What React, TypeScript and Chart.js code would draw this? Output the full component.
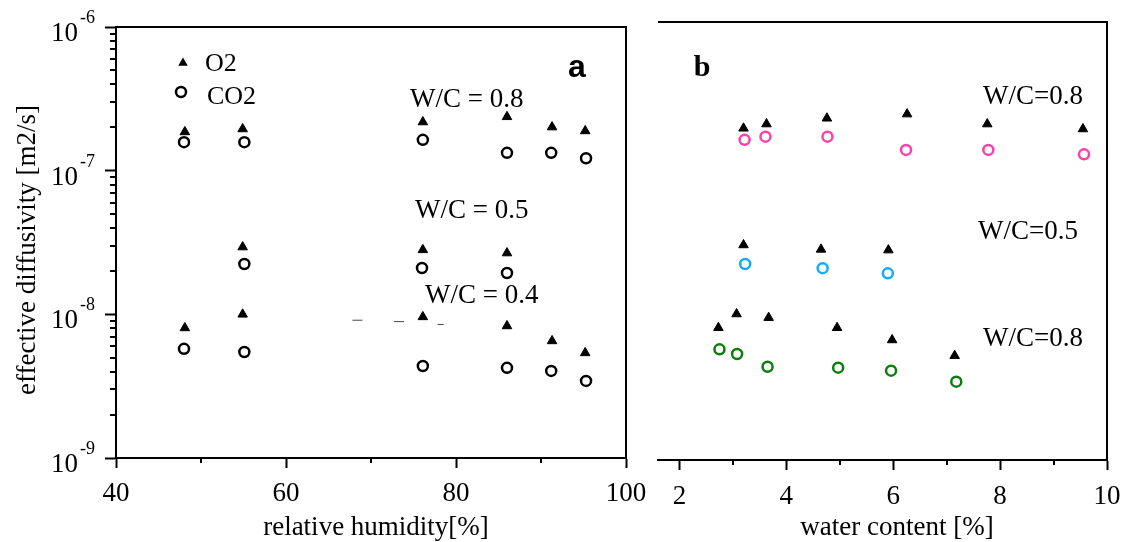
import React, { useEffect, useRef } from 'react';
import { Chart, registerables } from 'chart.js';

Chart.register(...registerables);

const SERIF = '"Liberation Serif", "Times New Roman", serif';
const SANS = '"Liberation Sans", Arial, sans-serif';

// ---------- Panel a : relative humidity [%] ----------
const rhO2Wc08 = [48.1, 54.9, 76.1, 86.0, 91.3, 95.2];
const dO2Wc08 = [1.86e-7, 1.95e-7, 2.18e-7, 2.37e-7, 2.01e-7, 1.89e-7];
const rhCO2Wc08 = [48.0, 55.1, 76.1, 86.0, 91.2, 95.3];
const dCO2Wc08 = [1.58e-7, 1.58e-7, 1.64e-7, 1.33e-7, 1.33e-7, 1.22e-7];

const rhO2Wc05 = [54.9, 76.1, 86.0];
const dO2Wc05 = [2.94e-8, 2.81e-8, 2.67e-8];
const rhCO2Wc05 = [55.1, 76.0, 86.0];
const dCO2Wc05 = [2.24e-8, 2.10e-8, 1.94e-8];

const rhO2Wc04 = [48.1, 54.9, 76.1, 86.0, 91.3, 95.2];
const dO2Wc04 = [8.04e-9, 1.0e-8, 9.6e-9, 8.3e-9, 6.53e-9, 5.39e-9];
const rhCO2Wc04 = [48.0, 55.1, 76.1, 86.0, 91.2, 95.3];
const dCO2Wc04 = [5.75e-9, 5.47e-9, 4.37e-9, 4.24e-9, 4.04e-9, 3.44e-9];

const rhDashes = [68.4, 73.3, 78.2];
const dDashes = [9.1e-9, 8.9e-9, 8.5e-9];

// ---------- Panel b : water content [%] ----------
const wcO2Wc08 = [3.20, 3.63, 4.76, 6.26, 7.76, 9.55];
const dbO2Wc08 = [1.87e-7, 2.0e-7, 2.19e-7, 2.34e-7, 2.0e-7, 1.85e-7];
const wcCO2Wc08 = [3.22, 3.61, 4.77, 6.24, 7.78, 9.57];
const dbCO2Wc08 = [1.56e-7, 1.64e-7, 1.64e-7, 1.33e-7, 1.33e-7, 1.24e-7];

const wcO2Wc05 = [3.20, 4.65, 5.91];
const dbO2Wc05 = [2.97e-8, 2.77e-8, 2.74e-8];
const wcCO2Wc05 = [3.23, 4.68, 5.90];
const dbCO2Wc05 = [2.2e-8, 2.06e-8, 1.9e-8];

const wcO2Wc04 = [2.73, 3.07, 3.67, 4.95, 5.98, 7.15];
const dbO2Wc04 = [8.05e-9, 1.0e-8, 9.44e-9, 8.05e-9, 6.64e-9, 5.18e-9];
const wcCO2Wc04 = [2.75, 3.08, 3.65, 4.97, 5.96, 7.18];
const dbCO2Wc04 = [5.73e-9, 5.32e-9, 4.35e-9, 4.29e-9, 4.09e-9, 3.44e-9];

// ---------- axes ----------
const xTicksA = [40, 50, 60, 70, 80, 90, 100];
const xLabelsA = [40, 60, 80, 100];
const xTicksB = [2, 3, 4, 5, 6, 7, 8, 9, 10];
const xLabelsB = [2, 4, 6, 8, 10];
const yDecades = [1e-9, 1e-8, 1e-7, 1e-6];
const yExponents = ['-9', '-8', '-7', '-6'];
const yMultipliers = [1, 2, 3, 4, 5, 6, 7, 8, 9];

const yTickValues: number[] = [];
yDecades.forEach((d, i) => {
  if (i === yDecades.length - 1) yTickValues.push(d);
  else yMultipliers.forEach((m) => yTickValues.push(m * d));
});

const isDecade = (v: number) => {
  const l = Math.log10(v);
  return Math.abs(l - Math.round(l)) < 1e-6;
};

const pts = (xs: number[], ys: number[]) => xs.map((x, i) => ({ x, y: ys[i] }));

const PINK = 'rgb(255, 64, 170)';
const BLUE = 'rgb(20, 170, 255)';
const GREEN = 'rgb(10, 125, 10)';

const tri = (label: string, data: any[]) => ({
  label,
  data,
  pointStyle: 'triangle',
  pointRadius: 5.5,
  pointBorderWidth: 1,
  pointBackgroundColor: '#000',
  pointBorderColor: '#000',
  showLine: false,
});

const circ = (label: string, data: any[], color: string) => ({
  label,
  data,
  pointStyle: 'circle',
  pointRadius: 5,
  pointBorderWidth: 2.5,
  pointBackgroundColor: 'rgba(0,0,0,0)',
  pointBorderColor: color,
  showLine: false,
});

type TextItem = { text: string; x: number; y: number; font: string; align?: CanvasTextAlign; rotate?: number };

const decorPlugin = (opts: {
  texts: TextItem[];
  yLabels: boolean;
  minorX: number[];
  legend: boolean;
}) => ({
  id: 'decor',
  afterDraw(chart: any) {
    const ctx: CanvasRenderingContext2D = chart.ctx;
    const area = chart.chartArea;
    const xs = chart.scales.x;
    const ys = chart.scales.y;
    ctx.save();
    ctx.strokeStyle = '#000';
    ctx.fillStyle = '#000';
    ctx.lineWidth = 2;
    // top and right frame lines
    ctx.beginPath();
    ctx.moveTo(area.left, area.top);
    ctx.lineTo(area.right, area.top);
    ctx.lineTo(area.right, area.bottom);
    ctx.stroke();
    // minor x ticks
    opts.minorX.forEach((v) => {
      const px = Math.round(xs.getPixelForValue(v));
      ctx.beginPath();
      ctx.moveTo(px, area.bottom);
      ctx.lineTo(px, area.bottom + 5);
      ctx.stroke();
    });
    if (opts.yLabels) {
      // minor y ticks
      yTickValues.forEach((v) => {
        if (isDecade(v)) return;
        const py = Math.round(ys.getPixelForValue(v));
        ctx.beginPath();
        ctx.moveTo(area.left - 6, py);
        ctx.lineTo(area.left, py);
        ctx.stroke();
      });
      // decade labels 10^n
      yDecades.forEach((d, i) => {
        const py = ys.getPixelForValue(d);
        ctx.textBaseline = 'alphabetic';
        ctx.font = `27px ${SERIF}`;
        ctx.textAlign = 'right';
        ctx.fillText('10', 78, py + 14);
        ctx.font = `18px ${SERIF}`;
        ctx.textAlign = 'left';
        ctx.fillText(yExponents[i], 80, py - 4);
      });
    }
    if (opts.legend) {
      // triangle marker
      ctx.beginPath();
      const tx = 183, ty = 63, r = 5.5;
      ctx.moveTo(tx, ty - r);
      ctx.lineTo(tx + r * 0.866, ty + r * 0.5);
      ctx.lineTo(tx - r * 0.866, ty + r * 0.5);
      ctx.closePath();
      ctx.fill();
      ctx.lineWidth = 2.5;
      ctx.beginPath();
      ctx.arc(181, 92, 5, 0, Math.PI * 2);
      ctx.stroke();
    }
    opts.texts.forEach((t) => {
      ctx.save();
      ctx.font = t.font;
      ctx.textAlign = t.align || 'left';
      ctx.textBaseline = 'middle';
      ctx.translate(t.x, t.y);
      if (t.rotate) ctx.rotate(t.rotate);
      ctx.fillText(t.text, 0, 0);
      ctx.restore();
    });
    ctx.restore();
  },
});

const tickColorFor = (labels: number[]) => (c: any) =>
  c && c.tick && labels.includes(c.tick.value) ? '#000' : 'rgba(0,0,0,0)';

const zeroPad = (s: any) => {
  s.paddingLeft = 0;
  s.paddingRight = 0;
  s.paddingTop = 0;
  s.paddingBottom = 0;
};

const f27 = `27px ${SERIF}`;

const configA = () => ({
  type: 'scatter',
  data: {
    datasets: [
      tri('O2 W/C=0.8', pts(rhO2Wc08, dO2Wc08)),
      circ('CO2 W/C=0.8', pts(rhCO2Wc08, dCO2Wc08), '#000'),
      tri('O2 W/C=0.5', pts(rhO2Wc05, dO2Wc05)),
      circ('CO2 W/C=0.5', pts(rhCO2Wc05, dCO2Wc05), '#000'),
      tri('O2 W/C=0.4', pts(rhO2Wc04, dO2Wc04)),
      circ('CO2 W/C=0.4', pts(rhCO2Wc04, dCO2Wc04), '#000'),
      {
        label: 'dashes',
        data: pts(rhDashes, dDashes),
        pointStyle: 'line',
        pointRadius: [5, 5, 3],
        pointBorderWidth: 1,
        pointBorderColor: '#444',
        showLine: false,
      },
    ],
  },
  options: {
    responsive: false,
    animation: false,
    devicePixelRatio: 1,
    layout: { padding: { left: 0, top: 27, right: 34, bottom: 0 } },
    plugins: { legend: { display: false }, tooltip: { enabled: false } },
    scales: {
      x: {
        type: 'linear',
        position: 'bottom',
        min: 40,
        max: 100,
        afterBuildTicks: (s: any) => {
          s.ticks = xTicksA.map((v) => ({ value: v }));
        },
        afterFit: (s: any) => {
          s.height = 84;
          zeroPad(s);
        },
        ticks: {
          autoSkip: false,
          maxRotation: 0,
          padding: 10,
          color: '#000',
          font: { family: SERIF, size: 27 },
          callback: (v: any) => (xLabelsA.includes(v) ? String(v) : ''),
        },
        grid: { drawOnChartArea: false, tickLength: 10, tickWidth: 2, tickColor: tickColorFor(xLabelsA) },
        border: { color: '#000', width: 2 },
      },
      y: {
        type: 'logarithmic',
        position: 'left',
        min: 1e-9,
        max: 1e-6,
        afterBuildTicks: (s: any) => {
          s.ticks = yTickValues.map((v) => ({ value: v }));
        },
        afterFit: (s: any) => {
          s.width = 116;
          zeroPad(s);
        },
        ticks: { autoSkip: false, callback: () => '' },
        grid: {
          drawOnChartArea: false,
          tickLength: 11,
          tickWidth: 2,
          tickColor: (c: any) => (c && c.tick && isDecade(c.tick.value) ? '#000' : 'rgba(0,0,0,0)'),
        },
        border: { color: '#000', width: 2 },
      },
    },
  },
  plugins: [
    decorPlugin({
      yLabels: true,
      legend: true,
      minorX: xTicksA.filter((v) => !xLabelsA.includes(v)),
      texts: [
        { text: 'effective diffusivity [m2/s]', x: 28, y: 250, font: f27, align: 'center', rotate: -Math.PI / 2 },
        { text: 'relative humidity[%]', x: 376, y: 528, font: f27, align: 'center' },
        { text: 'O2', x: 205, y: 64, font: `26px ${SERIF}` },
        { text: 'CO2', x: 207, y: 97, font: `26px ${SERIF}` },
        { text: 'a', x: 577, y: 68, font: `bold 32px ${SANS}`, align: 'center' },
        { text: 'W/C = 0.8', x: 410, y: 100, font: f27 },
        { text: 'W/C = 0.5', x: 415, y: 211, font: f27 },
        { text: 'W/C = 0.4', x: 425, y: 296, font: f27 },
      ],
    }),
  ],
});

const configB = () => ({
  type: 'scatter',
  data: {
    datasets: [
      tri('O2 W/C=0.8', pts(wcO2Wc08, dbO2Wc08)),
      circ('CO2 W/C=0.8', pts(wcCO2Wc08, dbCO2Wc08), PINK),
      tri('O2 W/C=0.5', pts(wcO2Wc05, dbO2Wc05)),
      circ('CO2 W/C=0.5', pts(wcCO2Wc05, dbCO2Wc05), BLUE),
      tri('O2 W/C=0.4', pts(wcO2Wc04, dbO2Wc04)),
      circ('CO2 W/C=0.4', pts(wcCO2Wc04, dbCO2Wc04), GREEN),
    ],
  },
  options: {
    responsive: false,
    animation: false,
    devicePixelRatio: 1,
    layout: { padding: { left: 18, top: 22, right: 15, bottom: 0 } },
    plugins: { legend: { display: false }, tooltip: { enabled: false } },
    scales: {
      x: {
        type: 'linear',
        position: 'bottom',
        min: 1.6,
        max: 10,
        afterBuildTicks: (s: any) => {
          s.ticks = xTicksB.map((v) => ({ value: v }));
        },
        afterFit: (s: any) => {
          s.height = 82;
          zeroPad(s);
        },
        ticks: {
          autoSkip: false,
          maxRotation: 0,
          padding: 11,
          color: '#000',
          font: { family: SERIF, size: 27 },
          callback: (v: any) => (xLabelsB.includes(v) ? String(v) : ''),
        },
        grid: { drawOnChartArea: false, tickLength: 10, tickWidth: 2, tickColor: tickColorFor(xLabelsB) },
        border: { color: '#000', width: 2 },
      },
      y: {
        type: 'logarithmic',
        display: false,
        min: 1e-9,
        max: 1e-6,
      },
    },
  },
  plugins: [
    decorPlugin({
      yLabels: false,
      legend: false,
      minorX: xTicksB.filter((v) => !xLabelsB.includes(v)),
      texts: [
        { text: 'water content [%]', x: 257, y: 528, font: f27, align: 'center' },
        { text: 'b', x: 62, y: 68, font: `bold 30px ${SERIF}`, align: 'center' },
        { text: 'W/C=0.8', x: 343, y: 97, font: f27 },
        { text: 'W/C=0.5', x: 338, y: 232, font: f27 },
        { text: 'W/C=0.8', x: 343, y: 339, font: f27 },
      ],
    }),
  ],
});

function ChartCanvas({ make, width, height, left }: { make: () => any; width: number; height: number; left: number }) {
  const ref = useRef<HTMLCanvasElement>(null);
  useEffect(() => {
    const chart = new Chart(ref.current as HTMLCanvasElement, make());
    return () => chart.destroy();
  }, []);
  return (
    <canvas
      ref={ref}
      width={width}
      height={height}
      style={{ position: 'absolute', left, top: 0, width, height }}
    />
  );
}

export default function App() {
  return (
    <div style={{ position: 'fixed', left: 0, top: 0, width: 1122, height: 542, background: '#fff', overflow: 'hidden' }}>
      <ChartCanvas make={configA} width={660} height={542} left={0} />
      <ChartCanvas make={configB} width={482} height={542} left={640} />
    </div>
  );
}
